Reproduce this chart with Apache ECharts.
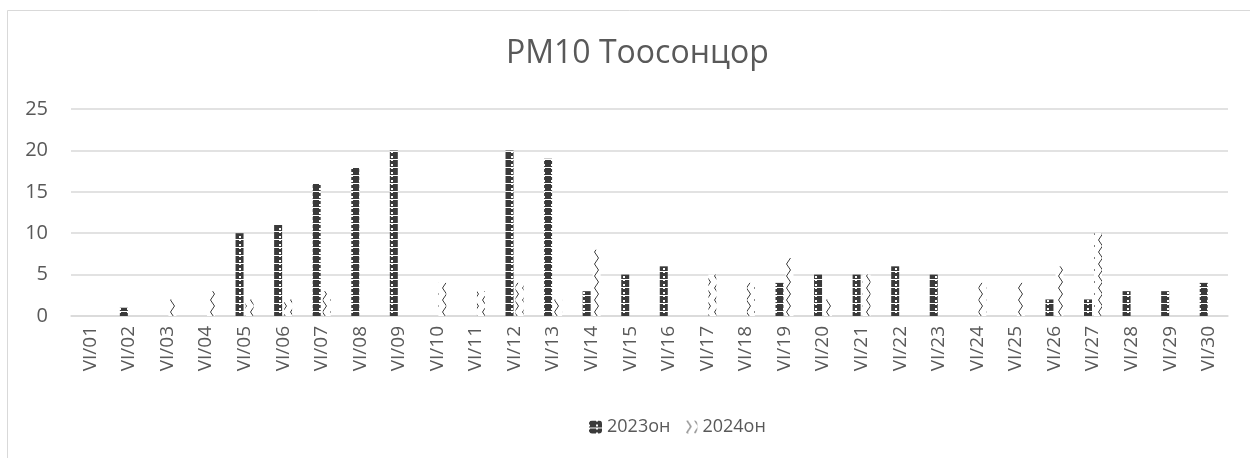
<!DOCTYPE html>
<html>
	<head>
		<meta charset="utf-8">
		<script src="https://cdn.jsdelivr.net/npm/echarts@6/dist/echarts.min.js"></script>
		<style>
			html,body{
				margin:0;
				padding:0;
				background:#fff;
			}
			#container{
				width:1250px;
				height:458px;
			}
		</style>
	</head>
	<body>
		<div id="container"></div>
	<script>
		// data
		var days = ['VI/01','VI/02','VI/03','VI/04','VI/05','VI/06','VI/07','VI/08','VI/09','VI/10',
			'VI/11','VI/12','VI/13','VI/14','VI/15','VI/16','VI/17','VI/18','VI/19','VI/20',
			'VI/21','VI/22','VI/23','VI/24','VI/25','VI/26','VI/27','VI/28','VI/29','VI/30'];
		var y2023 = [0,1,0,0,10,11,16,18,20,0,0,20,19,3,5,6,0,0,4,5,5,6,5,0,0,2,2,3,3,4];
		var y2024 = [0,0,2,3,2,2,3,0,0,4,3,4,2,8,0,0,5,4,7,2,5,0,0,4,4,6,10,0,0,0];
		var seriesNames = ['2023он', '2024он'];

		// excel-like fill patterns
		function darkPattern(){
			var c = document.createElement('canvas');
			c.width = 8; c.height = 8;
			var g = c.getContext('2d');
			g.fillStyle = '#3a3a3a';
			g.fillRect(0,0,8,8);
			g.fillStyle = '#fff';
			g.fillRect(0,0,1,1);
			g.fillRect(7,0,1,1);
			g.fillRect(0,7,8,1);
			g.fillRect(0,4,1,2);
			g.fillRect(7,4,1,2);
			return c;
		}
		function wavePattern(){
			var c = document.createElement('canvas');
			c.width = 8; c.height = 12;
			var g = c.getContext('2d');
			g.fillStyle = '#fff';
			g.fillRect(0,0,8,12);
			g.strokeStyle = '#3f3f3f';
			g.lineWidth = 1;
			g.beginPath();
			g.moveTo(2.5,0);
			g.lineTo(6.5,6);
			g.lineTo(2.5,12);
			g.stroke();
			return c;
		}

		var myChart = echarts.init(document.getElementById('container'));
		var font = '"Open Sans", "Noto Sans", sans-serif';
		var option = {
			backgroundColor: '#fff',
			animation: false,
			textStyle: { fontFamily: font },
			graphic: [{
				type: 'rect',
				shape: { x: 7.5, y: 10.5, width: 1400, height: 600 },
				style: { fill: 'none', stroke: '#d9d9d9', lineWidth: 1 },
				silent: true
			}],
			title: {
				text: 'PM10 Тоосонцор',
				left: 501,
				top: 33,
				textStyle: {
					color: '#595959',
					fontSize: 32,
					fontWeight: 'normal',
					fontFamily: font
				}
			},
			legend: {
				data: seriesNames,
				left: 584,
				top: 413,
				itemWidth: 13,
				itemHeight: 13,
				itemGap: 14,
				textStyle: { color: '#595959', fontSize: 18, fontFamily: font }
			},
			grid: {
				left: 71,
				right: 22,
				top: 109,
				bottom: 142
			},
			xAxis: {
				type: 'category',
				data: days,
				axisLine: { lineStyle: { color: '#d9d9d9', width: 1.5 } },
				axisTick: { show: false },
				axisLabel: {
					rotate: 90,
					interval: 0,
					margin: 10,
					color: '#595959',
					fontSize: 19,
					fontFamily: font
				}
			},
			yAxis: {
				type: 'value',
				min: 0,
				max: 25,
				interval: 5,
				axisLine: { show: false },
				axisTick: { show: false },
				splitLine: { lineStyle: { color: '#d9d9d9', width: 1.5 } },
				axisLabel: {
					margin: 23,
					color: '#595959',
					fontSize: 20,
					fontFamily: font
				}
			},
			series: [
				{
					name: seriesNames[0],
					type: 'bar',
					data: y2023,
					barWidth: 8,
					barGap: '25%',
					itemStyle: { color: { image: darkPattern(), repeat: 'repeat' } }
				},
				{
					name: seriesNames[1],
					type: 'bar',
					data: y2024,
					barWidth: 8,
					itemStyle: { color: { image: wavePattern(), repeat: 'repeat' } }
				}
			]
		};
		myChart.setOption(option, true);
	</script>
	</body>
</html>
